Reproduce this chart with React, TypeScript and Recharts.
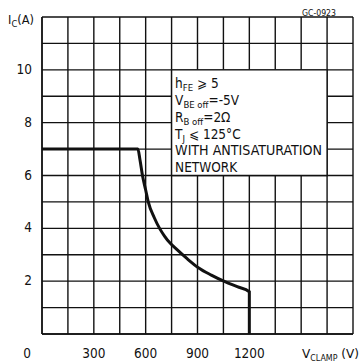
import React from 'react';
import {
  LineChart, Line, XAxis, YAxis, CartesianGrid, ReferenceArea,
} from 'recharts';

// safe operating area curve
const vClamp = [0, 555, 567, 583, 600, 615, 650, 683, 710, 740, 780, 840, 905, 980, 1059, 1130, 1200, 1200];
const iC = [7, 7, 6.6, 5.95, 5.45, 5.0, 4.4, 3.97, 3.7, 3.45, 3.2, 2.85, 2.51, 2.23, 1.98, 1.79, 1.6, 0];

const xTicks = [0, 150, 300, 450, 600, 750, 900, 1050, 1200, 1350, 1500, 1650, 1800];
const xLabels = [0, 300, 600, 900, 1200];
const yTicks = [0, 1, 2, 3, 4, 5, 6, 7, 8, 9, 10, 11, 12];
const yLabels = [2, 4, 6, 8, 10];

const FONT = '"DejaVu Sans Condensed", "Liberation Sans Narrow", "DejaVu Sans", sans-serif';
const INK = '#111';

const data = vClamp.map((v, i) => ({ v, i: iC[i] }));

const XTick = ({ x, y, payload }: any) => {
  if (!xLabels.includes(payload.value)) return null;
  const dx = payload.value === 0 ? -15 : 0;
  return (
    <text x={x + dx} y={y + 11} textAnchor="middle" dominantBaseline="central"
      fontFamily={FONT} fontSize={13.5} fill={INK}>
      {payload.value}
    </text>
  );
};

const YTick = ({ x, y, payload }: any) => {
  if (!yLabels.includes(payload.value)) return null;
  return (
    <text x={x - 2} y={y - 1} textAnchor="end" dominantBaseline="central"
      fontFamily={FONT} fontSize={13.5} fill={INK}>
      {payload.value}
    </text>
  );
};

const BoxText = ({ viewBox }: any) => {
  if (!viewBox) return null;
  const x0 = viewBox.x + 3.5;
  const y0 = viewBox.y + 18;
  const lh = 16.9;
  return (
    <g fontFamily={FONT} fontSize={13.5} fill={INK}>
      <text x={x0} y={y0}>h<tspan dy={3} fontSize={9.5}>FE</tspan><tspan dy={-3}> ⩾ 5</tspan></text>
      <text x={x0} y={y0 + lh}>V<tspan dy={3} fontSize={9.5}>BE off</tspan><tspan dy={-3}>=-5V</tspan></text>
      <text x={x0} y={y0 + lh * 2}>R<tspan dy={3} fontSize={9.5}>B off</tspan><tspan dy={-3}>=2Ω</tspan></text>
      <text x={x0} y={y0 + lh * 3}>T<tspan dy={3} fontSize={9.5}>J</tspan><tspan dy={-3}> ⩽ 125°C</tspan></text>
      <text x={x0} y={y0 + lh * 4} textLength={147} lengthAdjust="spacingAndGlyphs">WITH ANTISATURATION</text>
      <text x={x0} y={y0 + lh * 5}>NETWORK</text>
    </g>
  );
};

export default function App() {
  return (
    <div style={{ position: 'fixed', left: 0, top: 0, width: 363, height: 362, background: '#fff' }}>
      <LineChart width={363} height={362} data={data}
        margin={{ top: 17, right: 10, bottom: 0, left: 0 }}>
        <CartesianGrid stroke={INK} strokeWidth={1.4} strokeOpacity={1}
          horizontal vertical />
        <XAxis dataKey="v" type="number" domain={[0, 1800]} ticks={xTicks}
          height={28} tick={<XTick />} tickLine={false}
          axisLine={{ stroke: INK, strokeWidth: 1.4 }} interval={0} />
        <YAxis type="number" domain={[0, 12]} ticks={yTicks} width={42}
          tick={<YTick />} tickLine={false}
          axisLine={{ stroke: INK, strokeWidth: 1.4 }} interval={0} />
        <ReferenceArea x1={750} x2={1650} y1={6} y2={10}
          fill="#fff" fillOpacity={1} stroke={INK} strokeWidth={1.4}
          label={<BoxText />} />
        <Line dataKey="i" type="monotoneX" stroke={INK} strokeWidth={3}
          dot={false} activeDot={false} isAnimationActive={false} />
      </LineChart>
      <svg width={363} height={362} style={{ position: 'absolute', left: 0, top: 0, pointerEvents: 'none' }}>
        <g fontFamily={FONT} fill={INK}>
          <text x={8} y={24} fontSize={13} textLength={26} lengthAdjust="spacingAndGlyphs">I<tspan dy={3} fontSize={9.5}>C</tspan><tspan dy={-3}>(A)</tspan></text>
          <text x={302} y={16} fontSize={8.5} textLength={34} lengthAdjust="spacingAndGlyphs">GC-0923</text>
          <text x={302} y={358} fontSize={13} textLength={57} lengthAdjust="spacingAndGlyphs">V<tspan dy={2.5} fontSize={8.5}>CLAMP</tspan><tspan dy={-2.5}> (V)</tspan></text>
        </g>
      </svg>
    </div>
  );
}
